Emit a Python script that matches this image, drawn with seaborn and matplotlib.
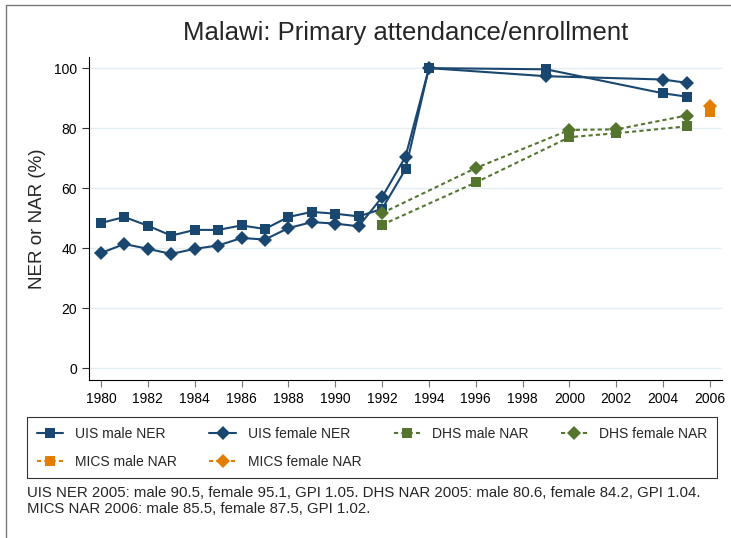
import pandas as pd
import seaborn as sns
import matplotlib.pyplot as plt
from matplotlib.lines import Line2D
from matplotlib.patches import Rectangle

# data
uis_years = [1980, 1981, 1982, 1983, 1984, 1985, 1986, 1987, 1988, 1989,
             1990, 1991, 1992, 1993, 1994, 1999, 2004, 2005]
uis_male = [48.4, 50.4, 47.5, 44.2, 46.1, 46.1, 47.6, 46.4, 50.4, 52.1,
            51.5, 50.6, 53.1, 66.3, 100.0, 99.6, 91.6, 90.5]
uis_female = [38.4, 41.4, 39.8, 38.1, 39.8, 40.9, 43.4, 42.9, 46.7, 48.7,
              48.2, 47.3, 57.0, 70.5, 100.0, 97.3, 96.2, 95.1]

dhs_years = [1992, 1996, 2000, 2002, 2005]
dhs_male = [47.8, 61.9, 77.0, 78.3, 80.6]
dhs_female = [51.7, 66.7, 79.4, 79.6, 84.2]

mics_years = [2006]
mics_male = [85.5]
mics_female = [87.5]

series_names = ["UIS male NER", "UIS female NER", "DHS male NAR",
                "DHS female NAR", "MICS male NAR", "MICS female NAR"]

notes = ("UIS NER 2005: male 90.5, female 95.1, GPI 1.05. "
         "DHS NAR 2005: male 80.6, female 84.2, GPI 1.04.\n"
         "MICS NAR 2006: male 85.5, female 87.5, GPI 1.02.")

# long format table
frames = []
for name, yrs, vals in [("UIS male NER", uis_years, uis_male),
                        ("UIS female NER", uis_years, uis_female),
                        ("DHS male NAR", dhs_years, dhs_male),
                        ("DHS female NAR", dhs_years, dhs_female),
                        ("MICS male NAR", mics_years, mics_male),
                        ("MICS female NAR", mics_years, mics_female)]:
    frames.append(pd.DataFrame({"year": yrs, "value": vals, "series": name}))
df = pd.concat(frames, ignore_index=True)

navy = "#1a476f"
green = "#55752f"
orange = "#e37e00"
colors = {"UIS male NER": navy, "UIS female NER": navy,
          "DHS male NAR": green, "DHS female NAR": green,
          "MICS male NAR": orange, "MICS female NAR": orange}
markers = {"UIS male NER": "s", "UIS female NER": "D",
           "DHS male NAR": "s", "DHS female NAR": "D",
           "MICS male NAR": "s", "MICS female NAR": "D"}
dash = (2, 1.5)
dashes = {"UIS male NER": "", "UIS female NER": "",
          "DHS male NAR": dash, "DHS female NAR": dash,
          "MICS male NAR": dash, "MICS female NAR": dash}

sns.set_style("ticks")
plt.rcParams["font.family"] = ["Liberation Sans", "DejaVu Sans"]

W, H = 731, 538
fig = plt.figure(figsize=(W / 100, H / 100), dpi=100)
ax = fig.add_axes([89 / W, 1 - 380 / H, (722 - 89) / W, (380 - 57) / H])

sns.lineplot(data=df, x="year", y="value", hue="series", style="series",
             hue_order=series_names, style_order=series_names,
             palette=colors, markers=markers, dashes=dashes,
             markersize=7.5, linewidth=1.5, markeredgewidth=0,
             legend=False, ax=ax)

ax.set_xlim(1979.49, 2006.51)
ax.set_ylim(-3.9, 103.7)
ax.set_xticks(range(1980, 2007, 2))
ax.set_yticks(range(0, 101, 20))
ax.grid(axis="y", color="#e4edf1", lw=1)
ax.set_axisbelow(True)
ax.tick_params(axis="both", labelsize=10, length=5, width=0.8,
               color="#333333", labelcolor="black")
ax.tick_params(axis="x", color="#777777")
for s in ["top", "right"]:
    ax.spines[s].set_visible(False)
for s in ["left", "bottom"]:
    ax.spines[s].set_color("black")
    ax.spines[s].set_linewidth(0.8)
ax.set_xlabel("")
ax.set_ylabel("NER or NAR (%)", fontsize=13.5, labelpad=6)
ax.set_title("Malawi: Primary attendance/enrollment", fontsize=18.5, pad=12)

# legend, filled column-wise so it reads row-wise
order = [0, 4, 1, 5, 2, 3]
handles = []
for i in order:
    n = series_names[i]
    h = Line2D([], [], color=colors[n], marker=markers[n], markersize=7,
               markeredgewidth=0, lw=1.5)
    if dashes[n]:
        h.set_dashes(dashes[n])
    handles.append(h)
labels = [series_names[i] for i in order]
leg = fig.legend(handles, labels, ncol=4, loc="upper left",
                 bbox_to_anchor=(27 / W, 1 - 417 / H),
                 fontsize=10, frameon=True, fancybox=False,
                 edgecolor="black", handlelength=1.9, handletextpad=0.85,
                 columnspacing=2.35, labelspacing=1.0, borderpad=0.7,
                 borderaxespad=0)
leg.get_frame().set_linewidth(0.8)

fig.text(27 / W, 1 - 486 / H, notes, fontsize=10.8, va="top", ha="left",
         linespacing=1.15)

# outer border of the graph region
fig.patches.append(Rectangle((6 / W, -0.1), 1.2, 1 - 5 / H + 0.1,
                             transform=fig.transFigure, fill=False,
                             edgecolor="#777777", lw=1))

fig.savefig("out.png", dpi=100)
